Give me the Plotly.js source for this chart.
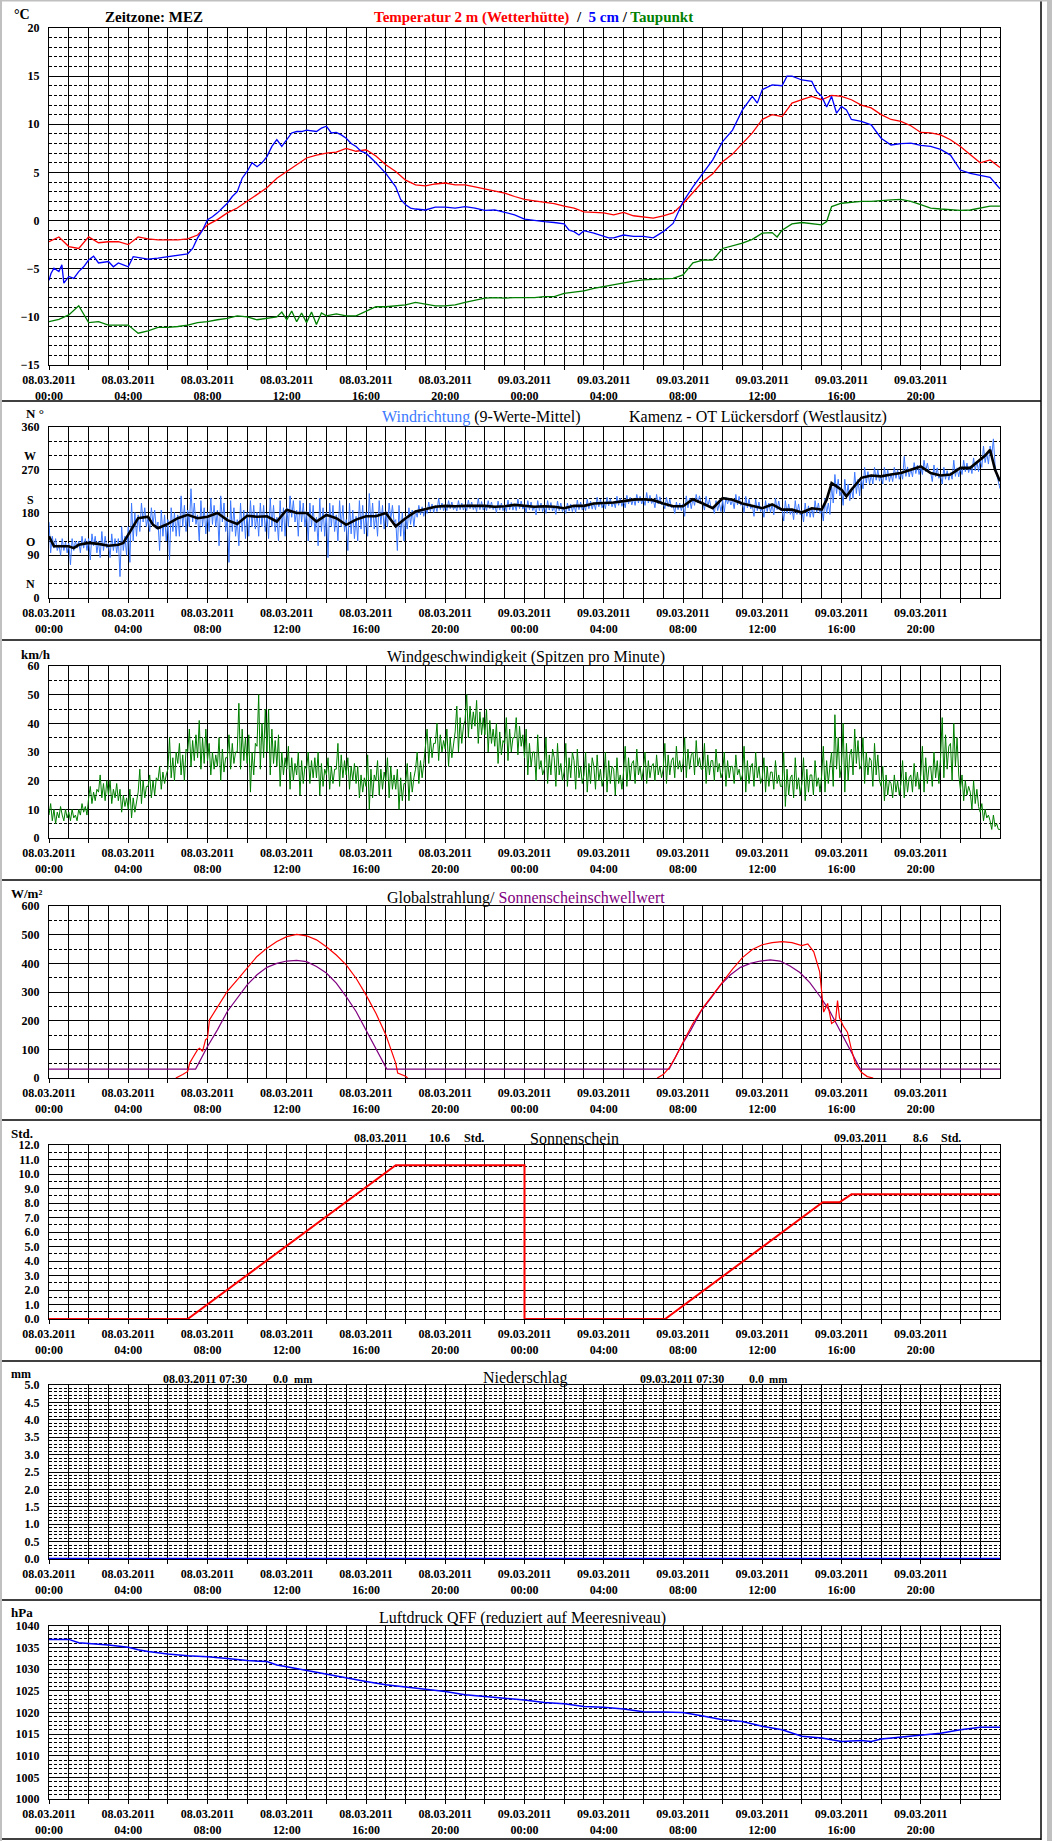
<!DOCTYPE html>
<html><head><meta charset="utf-8">
<script src="https://cdn.plot.ly/plotly-3.0.1.min.js"></script>
<style>html,body{margin:0;padding:0;background:#fff}#chart{width:1052px;height:1841px}</style>
</head><body><div id="chart"></div>
<script>
// ---------------- DATA (hours since 08.03.2011 00:00) ----------------
const xLabelHours = [0,4,8,12,16,20,24,28,32,36,40,44];
const xLabelText = ['08.03.2011<br>00:00','08.03.2011<br>04:00','08.03.2011<br>08:00','08.03.2011<br>12:00','08.03.2011<br>16:00','08.03.2011<br>20:00',
                    '09.03.2011<br>00:00','09.03.2011<br>04:00','09.03.2011<br>08:00','09.03.2011<br>12:00','09.03.2011<br>16:00','09.03.2011<br>20:00'];

// Temperature 2 m (half-hourly, 0..48 h)
const temp2m = [-2.2,-1.7,-2.7,-2.9,-1.7,-2.3,-2.2,-2.2,-2.5,-1.7,-1.9,-2.0,-2.0,-2.0,-1.9,-1.5,-0.45,0.1,0.8,1.3,2.0,2.7,3.4,4.4,5.1,5.8,6.5,6.8,7.0,7.1,7.5,7.2,7.35,6.7,5.8,5.1,4.2,3.7,3.6,3.8,3.9,3.7,3.7,3.5,3.3,3.1,2.85,2.5,
  2.2,2.05,1.9,1.75,1.5,1.3,0.9,0.85,0.8,0.6,0.85,0.5,0.4,0.25,0.5,0.8,1.75,2.85,4.05,4.85,6.1,6.9,8.0,9.1,10.5,11.0,10.8,12.2,12.55,12.9,12.55,13.0,12.9,12.55,12.0,11.7,11.0,10.5,10.3,9.85,9.15,9.1,8.9,8.4,7.7,6.8,6.0,6.3,5.5];

// Temperature 5 cm [hour, value]
const temp5cm = [[0,-6.2],[0.1,-5.5],[0.25,-4.95],[0.5,-5.3],[0.65,-4.6],[0.75,-6.5],[1,-5.8],[1.25,-6.0],[1.5,-5.3],[1.75,-4.8],[2,-4.1],[2.25,-3.7],[2.5,-4.4],[3,-4.25],[3.25,-4.8],[3.5,-4.4],[3.75,-4.6],[4,-4.8],[4.25,-3.75],[4.5,-3.85],[5,-4.0],[5.5,-3.9],[6,-3.75],[6.5,-3.55],[7,-3.45],[7.25,-2.9],[7.5,-1.8],[7.75,-1.0],[8,0.1],[8.25,0.4],[8.5,0.8],[8.75,1.3],[9,1.8],[9.25,2.5],[9.5,3.0],[9.75,4.4],[10,5.1],[10.25,6.0],[10.5,5.6],[10.75,6.0],[11,6.65],[11.25,7.7],[11.5,8.4],[11.75,7.7],[12,8.4],[12.25,9.1],[12.5,9.25],[12.75,9.25],[13,9.4],[13.5,9.25],[13.75,9.6],[14,9.8],[14.25,9.1],[14.5,9.15],[14.75,8.9],[15,8.55],[15.25,8.0],[15.5,7.7],[15.75,7.2],[16,7.0],[16.5,6.0],[17,4.9],[17.5,3.5],[17.75,2.2],[18,1.65],[18.25,1.3],[18.5,1.2],[19,1.1],[19.5,1.4],[20,1.4],[20.5,1.3],[21,1.45],[21.5,1.3],[22,1.05],[22.5,1.1],[23,0.85],[23.5,0.6],
  [24,0.15],[24.5,0.0],[25,-0.1],[25.5,-0.2],[26,-0.35],[26.25,-1.0],[26.5,-1.15],[26.75,-1.5],[27,-1.05],[27.5,-1.3],[28,-1.65],[28.25,-1.8],[28.5,-1.8],[29,-1.5],[29.5,-1.65],[30,-1.65],[30.5,-1.8],[31,-1.15],[31.5,-0.3],[32,1.95],[32.5,3.5],[33,4.9],[33.5,6.3],[34,8.2],[34.5,9.4],[35,11.5],[35.5,12.9],[35.75,12.2],[36,13.6],[36.5,14.1],[37,14.0],[37.25,15.0],[37.5,15.0],[38,14.6],[38.5,14.45],[38.75,13.4],[39,12.9],[39.25,11.8],[39.5,12.9],[39.75,11.15],[40,11.85],[40.25,11.5],[40.5,10.5],[41,10.3],[41.5,9.95],[42,8.55],[42.5,7.85],[43,8.0],[43.5,8.05],[44,7.8],[44.5,7.7],[45,7.4],[45.5,6.8],[46,5.25],[46.5,4.9],[47,4.7],[47.5,4.5],[48,3.3]];

// Dew point [hour, value]
const dewPoint = [[0,-10.5],[0.5,-10.25],[1,-9.8],[1.5,-8.85],[2,-10.6],[2.5,-10.5],[3,-10.85],[3.5,-10.85],[4,-10.85],[4.5,-11.7],[5,-11.45],[5.5,-11.1],[6,-11.1],[6.5,-11.0],[7,-10.85],[7.5,-10.6],[8,-10.5],[8.5,-10.3],[9,-10.15],[9.5,-9.9],[10,-10.0],[10.5,-10.3],[11,-10.15],[11.5,-10.0],[11.75,-9.5],[12,-10.3],[12.25,-9.4],[12.5,-10.5],[12.75,-9.6],[13,-10.6],[13.25,-9.5],[13.5,-10.8],[13.75,-9.6],[14,-9.9],[14.5,-9.7],[15,-9.9],[15.5,-9.9],[16,-9.45],[16.5,-8.95],[17,-8.95],[17.5,-8.85],[18,-8.75],[18.5,-8.5],[19,-8.65],[19.5,-8.85],[20,-8.85],[20.5,-8.75],[21,-8.5],[21.5,-8.25],[22,-8.05],[22.5,-8.0],[23,-8.05],[23.5,-8.0],
  [24,-8.0],[24.5,-8.0],[25,-7.9],[25.5,-7.9],[26,-7.55],[26.5,-7.4],[27,-7.3],[27.5,-7.05],[28,-6.85],[28.5,-6.7],[29,-6.45],[29.5,-6.3],[30,-6.15],[30.5,-6.1],[31,-6.0],[31.5,-6.0],[32,-5.65],[32.5,-4.4],[33,-4.1],[33.5,-4.1],[34,-2.9],[34.5,-2.6],[35,-2.35],[35.5,-1.95],[36,-1.3],[36.5,-1.25],[36.75,-1.7],[37,-1.0],[37.5,-0.35],[38,-0.2],[38.5,-0.3],[39,-0.45],[39.25,-0.1],[39.5,1.45],[40,1.8],[40.5,1.9],[41,2.0],[41.5,2.0],[42,2.1],[42.5,2.15],[43,2.2],[43.5,2.0],[44,1.65],[44.5,1.3],[45,1.2],[45.5,1.1],[46,1.05],[46.5,1.1],[47,1.3],[47.5,1.5],[48,1.5]];

// Wind direction raw (5-minute values, degrees)
const windDirRaw = [
  160,95,130,105,125,100, 112,90,125,100,118,95, 115,70,125,100,120,105, 120,95,130,105,125,100,
  125,80,135,110,130,95, 120,85,140,100,130,105, 115,85,135,100,125,95, 125,45,150,100,130,90,
  150,75,200,120,180,130, 175,140,200,160,190,150, 170,140,190,155,185,145, 160,100,185,130,175,120,
  165,80,190,140,180,130, 175,130,215,150,195,140, 185,150,230,160,200,155, 175,120,205,150,190,135,
  180,140,210,155,195,150, 185,110,215,160,200,140, 170,75,205,140,190,130, 165,110,200,140,185,125,
  180,130,205,150,195,145, 180,130,200,150,195,140, 178,125,210,150,195,140, 170,120,205,140,190,130,
  190,150,215,170,205,160, 185,130,205,160,200,150, 182,120,200,150,195,140, 170,110,210,140,190,130,
  180,85,200,150,195,140, 175,120,205,150,195,140, 165,100,200,135,185,125, 172,120,205,145,195,135,
  180,130,220,150,200,145, 178,130,205,155,195,145, 182,150,200,165,195,160, 165,100,195,130,180,120,
  172,145,190,155,185,150, 185,170,195,175,192,172, 190,178,202,182,198,180, 195,182,210,186,200,184,
  196,184,205,188,202,186, 195,183,205,186,200,185, 196,184,206,188,202,186, 196,182,210,186,203,185,
  196,184,205,188,202,186, 194,180,204,185,200,184, 195,182,206,186,201,185, 198,184,208,188,204,187,
  196,180,205,186,202,184, 194,175,205,184,200,182, 195,178,205,185,201,183, 194,176,204,184,200,182,
  191,178,200,183,198,182, 196,180,206,186,202,185, 197,184,208,188,204,187, 201,186,212,192,208,190,
  202,188,212,194,209,192, 203,190,214,195,210,193, 206,190,216,198,212,196, 209,195,218,200,214,198,
  210,195,222,200,216,199, 207,190,218,198,213,196, 201,188,212,192,208,190, 195,178,202,186,200,184,
  198,172,215,190,210,188, 210,195,218,200,215,198, 202,185,214,192,208,190, 192,178,205,184,200,182,
  206,180,212,198,210,196, 207,188,218,196,214,195, 201,180,214,190,208,188, 195,172,208,184,202,182,
  192,170,205,182,200,180, 197,175,210,186,204,184, 189,162,205,178,198,176, 188,165,205,176,198,175,
  184,160,200,172,194,170, 190,170,205,180,200,178, 188,162,210,178,200,176, 238,200,260,220,250,215,
  228,195,250,210,240,205, 232,210,265,220,250,215, 254,230,275,242,266,240, 260,240,275,248,270,246,
  258,240,275,248,270,245, 262,245,275,252,270,250, 266,250,298,256,276,255, 272,255,285,262,280,260,
  277,260,290,266,284,264, 265,245,280,255,274,252, 259,240,275,250,268,248, 264,250,290,256,274,255,
  275,260,290,266,284,264, 278,262,295,268,288,266, 292,275,320,285,305,282, 320,300,335,280,260,245, 230];

// Wind direction 9-value mean [hour, deg]
const windDirMean = [[0,130],[0.25,109],[0.5,109],[1,109],[1.25,105],[1.5,112],[2,116],[2.5,114],[3,110],[3.5,112],[3.75,116],[4,133],[4.25,151],[4.5,168],[5,171],[5.25,154],[5.5,147],[6,156],[6.5,168],[7,175],[7.5,168],[8,171],[8.5,179],[9,164],[9.5,156],[10,173],[10.5,171],[11,172],[11.5,161],[12,186],[12.5,179],[13,179],[13.5,161],[14,175],[14.5,168],[15,154],[15.5,165],[16,172],[16.5,172],[17,179],[17.5,151],[18,168],[18.5,182],[19,187],[19.5,192],[20,194],[20.5,193],[21,194],[21.5,194],[22,194],[22.5,192],[23,193],[23.5,196],
  [24,194],[24.5,192],[25,193],[25.5,192],[26,189],[26.5,194],[27,194],[27.5,199],[28,200],[28.5,201],[29,204],[29.5,207],[30,208],[30.5,206],[31,199],[31.5,193],[32,193],[32.5,208],[33,199],[33.5,189],[34,210],[34.5,207],[35,199],[35.5,194],[36,189],[36.5,197],[37,186],[37.5,186],[38,180],[38.5,189],[39,186],[39.25,207],[39.5,242],[40,228],[40.25,214],[40.5,228],[41,253],[41.5,258],[42,256],[42.5,260],[43,263],[43.5,270],[44,277],[44.5,263],[45,258],[45.5,260],[46,274],[46.5,274],[47,291],[47.25,300],[47.5,312],[47.75,270],[48,246]];

// Wind speed, gusts (5-minute values, km/h)
const windSpeed = [
  8,12,6,10,5,9, 7,11,8,6,10,7, 9,6,10,7,8,6, 10,8,12,9,11,8, 14,18,12,16,13,17, 16,22,14,19,13,20,
  15,20,12,17,14,19, 13,17,9,15,11,14, 10,17,7,14,9,12, 16,24,12,20,14,18, 18,22,14,20,15,21, 20,25,17,23,19,22,
  24,35,21,28,20,30, 26,33,22,29,20,31, 30,38,25,34,27,36, 28,41,24,35,26,38, 27,33,22,30,24,29, 25,35,20,31,23,28,
  28,36,24,33,26,30, 30,47,24,38,27,35, 26,36,16,30,22,33, 32,50,24,40,28,45, 30,45,22,38,26,34, 25,36,18,30,22,28,
  24,32,17,28,20,26, 22,30,15,27,19,25, 24,30,19,27,21,28, 21,30,15,26,18,24, 22,28,17,25,19,24, 24,33,18,29,21,27,
  22,28,17,25,20,26, 19,25,14,22,16,21, 18,29,10,24,14,22, 20,27,15,24,17,23, 20,28,14,25,17,22, 17,24,10,21,13,19,
  19,26,13,23,16,21, 24,30,19,27,21,26, 31,38,26,35,28,33, 33,40,27,36,30,34, 31,38,25,35,28,33, 37,46,30,42,33,39,
  41,50,35,46,38,44, 39,48,33,44,36,42, 36,45,30,41,33,38, 32,40,26,37,29,34, 33,42,27,38,30,35, 35,42,29,39,32,36,
  28,38,22,33,25,30, 30,20,36,24,27,22, 24,35,19,29,22,31, 28,18,33,22,26,20, 23,33,18,28,21,30, 27,17,31,21,25,19,
  22,30,16,26,19,28, 25,17,29,20,24,18, 21,30,16,27,19,25, 24,15,28,19,22,17, 23,32,18,28,20,26, 27,19,31,22,25,20,
  24,30,19,27,21,25, 26,20,29,22,25,21, 24,33,19,29,22,27, 28,21,32,24,27,23, 26,35,21,31,24,29, 30,22,34,25,28,24,
  24,33,19,29,22,27, 27,20,31,23,26,21, 23,30,18,27,21,25, 25,19,29,22,24,20, 22,32,16,27,19,25, 26,18,30,21,25,19,
  21,28,16,25,18,23, 23,17,27,19,22,18, 18,30,11,24,15,21, 22,14,28,17,21,15, 19,28,13,24,16,22, 22,15,27,18,21,16,
  22,32,16,27,19,25, 30,18,43,24,35,21, 25,40,16,33,20,29, 31,22,38,26,34,24, 25,35,19,30,22,28, 27,18,33,22,29,20,
  18,25,13,22,15,20, 19,14,22,16,20,15, 19,27,14,23,16,21, 22,16,26,18,23,17, 22,32,16,28,19,25, 25,18,30,21,27,19,
  28,42,21,36,24,32, 33,20,40,25,35,22, 17,22,13,20,15,18, 16,10,20,12,17,11, 9,12,6,10,7,8, 6,3,8,4,5,3, 3];

// Global radiation [hour, W/m²]
const globalRad = [[6.4,0],[6.5,3],[6.75,12],[7,23],[7.1,52],[7.25,70],[7.4,85],[7.5,99],[7.6,104],[7.75,93],[7.9,133],[8,139],[8.1,203],[8.25,220],[8.5,244],[9,302],[9.5,342],[10,383],[10.5,424],[11,453],[11.5,476],[12,493],[12.5,501],[13,496],[13.5,482],[14,458],[14.5,429],[15,395],[15.5,348],[16,290],[16.5,226],[17,151],[17.25,104],[17.5,52],[17.6,17],[18,6],[18.1,0],
  [null,null],[30.7,0],[31,12],[31.3,35],[31.6,70],[32,125],[32.5,190],[33,245],[33.5,290],[34,335],[34.5,380],[35,420],[35.5,448],[36,465],[36.5,472],[37,476],[37.5,472],[38,462],[38.3,468],[38.6,440],[38.9,370],[39.1,230],[39.3,260],[39.5,190],[39.7,200],[39.8,270],[39.9,210],[40.1,180],[40.3,160],[40.5,100],[40.7,50],[41,20],[41.3,5],[41.6,0]];

// Sunshine threshold [hour, W/m²]
const sunThreshold = [[0,31],[7.4,31],[8,110],[8.5,168],[9,232],[9.5,278],[10,325],[10.5,360],[11,386],[11.5,400],[12,408],[12.5,410],[13,406],[13.5,389],[14,366],[14.5,331],[15,284],[15.5,232],[16,168],[16.5,99],[17,35],[17.05,31],
  [31.3,31],[31.9,110],[32.4,168],[32.9,232],[33.4,278],[33.9,325],[34.4,360],[34.9,386],[35.4,400],[35.9,408],[36.4,412],[36.9,408],[37.4,391],[37.9,368],[38.4,333],[38.9,286],[39.4,234],[39.9,170],[40.4,101],[40.9,37],[40.95,31],[48,31]];

// Sunshine duration (cumulative, hours) [hour, Std.]
const sunshine = [[0,0],[7.0,0],[17.5,10.6],[24,10.6],[24,0],[31.1,0],[39.05,8.05],[39.9,8.05],[40.5,8.6],[48,8.6]];
// Precipitation [hour, mm]
const precip = [[0,0],[48,0]];

// Pressure QFF [hour, hPa]
const pressure = [[0,1036.9],[1,1036.9],[1.5,1036.15],[2,1036.0],[3,1035.6],[4,1035.1],[4.5,1034.5],[5,1034.1],[6,1033.5],[7,1033.1],[8,1032.9],[9,1032.5],[10,1032.0],[11,1031.8],[11.5,1031.0],[12,1030.6],[13,1029.7],[14,1028.9],[15,1027.9],[16,1027.15],[17,1026.4],[18,1025.85],[19,1025.4],[20,1024.85],[21,1024.1],[22,1023.7],[23,1023.3],[24,1022.9],
  [25,1022.3],[26,1022.0],[27,1021.4],[28,1021.2],[29,1020.8],[30,1020.2],[31,1020.1],[32,1020.0],[33,1019.2],[34,1018.3],[35,1017.9],[36,1016.8],[37,1016.0],[38,1014.5],[39,1014.1],[40,1013.3],[41,1013.5],[41.5,1013.3],[42,1013.85],[43,1014.3],[44,1014.85],[45,1015.2],[46,1016.0],[47,1016.6],[48,1016.6]];

// ---------------- LAYOUT ----------------
const W=1052, H=1841, L=49, R=1000, T=28, B=1799;
const px = x => (x-L)/(R-L);
const py = y => (B-y)/(B-T);
const F = 'Liberation Serif, "Times New Roman", serif';
const panels = [[28,365],[427,598],[666,838],[906,1078],[1145,1319],[1385,1559],[1626,1799]];
const yCfg = [
  {range:[-15,20], dtick:5, minor:1, fmt:''},
  {range:[0,360], vals:[0,90,180,270,360], minor:30, fmt:''},
  {range:[0,60], dtick:10, minor:5, fmt:''},
  {range:[0,600], dtick:100, minor:50, fmt:''},
  {range:[0,12], dtick:1, minor:0.5, fmt:'.1f'},
  {range:[0,5], dtick:0.5, minor:0.1, fmt:'.1f'},
  {range:[1000,1040], dtick:5, minor:1, fmt:''}
];

const tickVals=[], tickText=[];
for (let h=0; h<=46; h+=2){ tickVals.push(h); const i=xLabelHours.indexOf(h); tickText.push(i>=0 ? '<b>'+xLabelText[i].replace('<br>','</b><br><b>')+'</b>' : ''); }

const layout = {
  width:W, height:H, margin:{l:L, r:W-R, t:T, b:H-B, pad:0},
  paper_bgcolor:'#ffffff', plot_bgcolor:'#ffffff', showlegend:false,
  font:{family:F, color:'#000'}, annotations:[], shapes:[]
};
panels.forEach((p,i)=>{
  const n = i===0 ? '' : String(i+1);
  const c = yCfg[i];
  layout['xaxis'+n] = {
    domain:[0,1], anchor:'y'+n, range:[0,48], tickmode:'array', tickvals:tickVals, ticktext:tickText,
    ticks:'outside', ticklen:4, tickcolor:'#000', tickwidth:1,
    showgrid:true, gridcolor:'#000', gridwidth:1,
    minor:{tick0:0, dtick:1, showgrid:true, gridcolor:'#000', gridwidth:1, ticks:''},
    showline:true, mirror:true, linecolor:'#000', linewidth:1, zeroline:false,
    tickfont:{family:F, size:12, color:'#000'}, fixedrange:true,
    layer: i===5 ? 'below traces' : 'above traces'
  };
  const ya = {
    domain:[py(p[1]), py(p[0])], anchor:'x'+n, range:c.range,
    showgrid:true, gridcolor:'#000', gridwidth:1,
    minor:{dtick:c.minor, showgrid:true, gridcolor:'#000', gridwidth:1, griddash:'3px,2px', ticks:''},
    showline:true, mirror:true, linecolor:'#000', linewidth:1, zeroline:false,
    ticks:'', ticklabelstandoff:6, tickformat:c.fmt,
    tickfont:{family:F, size:12, color:'#000', weight:'bold'}, fixedrange:true
  };
  if (c.vals){ ya.tickmode='array'; ya.tickvals=c.vals; ya.minor.tick0=0; }
  else { ya.tickmode='linear'; ya.tick0=c.range[0]; ya.dtick=c.dtick; ya.minor.tick0=c.range[0]; }
  layout['yaxis'+n] = ya;
});

// frame and separators
const sh = layout.shapes;
const line = (x0,y0,x1,y1,col,w) => sh.push({type:'line', xref:'paper', yref:'paper', x0:px(x0), y0:py(y0), x1:px(x1), y1:py(y1), line:{color:col, width:w}, layer:'above'});
[401,640,880,1120,1361,1600,1839].forEach(y=>line(0,y,1041,y,'#000',1.5));
line(1041,0,1041,1840,'#000',1.5);
sh.push({type:'rect', xref:'paper', yref:'paper', x0:px(0), x1:px(2), y0:py(0), y1:py(1841), fillcolor:'#c0c0c0', line:{width:0}});
sh.push({type:'rect', xref:'paper', yref:'paper', x0:px(0), x1:px(1052), y0:py(0), y1:py(1.5), fillcolor:'#c0c0c0', line:{width:0}});
sh.push({type:'rect', xref:'paper', yref:'paper', x0:px(1047), x1:px(1052), y0:py(0), y1:py(1841), fillcolor:'#c0c0c0', line:{width:0}});

// text
const A = layout.annotations;
const txt = (t,x,y,size,anchor) => A.push({text:t, xref:'paper', yref:'paper', x:px(x), y:py(y), xanchor:anchor||'left', yanchor:'middle', showarrow:false, borderpad:0, font:{family:F, size:size||16, color:'#000'}});
const NB = '\u00a0';
// panel 1
txt('<b>°C</b>',13,14,14);
txt('<b>Zeitzone: MEZ</b>',104,17,15);
txt('<b><span style="color:#ff0000">Temperatur 2 m (Wetterhütte)</span>'+NB+NB+'/'+NB+NB+'<span style="color:#0000ff">5 cm</span> / <span style="color:#008000">Taupunkt</span></b>',373,17,15);
// panel 2
txt('<b>N'+NB+'°</b>',25,414,13);
[['W',456],['S',500],['O',542],['N',584]].forEach(a=>txt('<b>'+a[0]+'</b>',30,a[1],12,'center'));
txt('<span style="color:#3c78ff">Windrichtung</span> (9-Werte-Mittel)',381,417,16);
txt('Kamenz - OT Lückersdorf (Westlausitz)',628,417,16);
// panel 3
txt('<b>km/h</b>',20,654,13);
txt('Windgeschwindigkeit (Spitzen pro Minute)',386,657,16);
// panel 4
txt('<b>W/m²</b>',10,893,13);
txt('Globalstrahlung/ <span style="color:#800080">Sonnenscheinschwellwert</span>',386,898,16);
// panel 5
txt('<b>Std.</b>',10,1133,13);
txt('<b>08.03.2011</b>',353,1138,12); txt('<b>10.6</b>',428,1138,12); txt('<b>Std.</b>',463,1138,12);
txt('Sonnenschein',529,1138,16);
txt('<b>09.03.2011</b>',833,1138,12); txt('<b>8.6</b>',912,1138,12); txt('<b>Std.</b>',940,1138,12);
// panel 6
txt('<b>mm</b>',10,1374,12);
txt('<b>08.03.2011 07:30</b>',162,1379,12); txt('<b>0.0</b>',272,1379,12); txt('<b>mm</b>',293,1379,11);
txt('Niederschlag',482,1378,16);
txt('<b>09.03.2011 07:30</b>',639,1379,12); txt('<b>0.0</b>',748,1379,12); txt('<b>mm</b>',768,1379,11);
// panel 7
txt('<b>hPa</b>',10,1612,13);
txt('Luftdruck QFF (reduziert auf Meeresniveau)',378,1618,16);

// ---------------- TRACES ----------------
const half = temp2m.map((_,i)=>i/2);
const fiveMin = arr => arr.map((_,i)=>i/12);
const xs = a => a.map(p=>p[0]), ys = a => a.map(p=>p[1]);
const tr = (x,y,ax,col,w) => ({type:'scatter', mode:'lines', x:x, y:y, xaxis:'x'+ax, yaxis:'y'+ax, line:{color:col, width:w}, hoverinfo:'skip', connectgaps:false, cliponaxis:false});
const data = [
  tr(xs(dewPoint), ys(dewPoint), '', '#008000', 1.3),
  tr(half, temp2m, '', '#ff0000', 1.3),
  tr(xs(temp5cm), ys(temp5cm), '', '#0000ff', 1.3),
  tr(fiveMin(windDirRaw), windDirRaw, '2', '#3c78ff', 1),
  tr(xs(windDirMean), ys(windDirMean), '2', '#000000', 2.6),
  tr(fiveMin(windSpeed), windSpeed, '3', '#008000', 1),
  tr(xs(sunThreshold), ys(sunThreshold), '4', '#800080', 1.2),
  tr(xs(globalRad), ys(globalRad), '4', '#ff0000', 1.2),
  tr(xs(sunshine), ys(sunshine), '5', '#ff0000', 2),
  tr(xs(precip), ys(precip), '6', '#0000ff', 2.5),
  tr(xs(pressure), ys(pressure), '7', '#0000ff', 1.5)
];
Plotly.newPlot('chart', data, layout, {staticPlot:true, displayModeBar:false});
</script>
</body></html>
